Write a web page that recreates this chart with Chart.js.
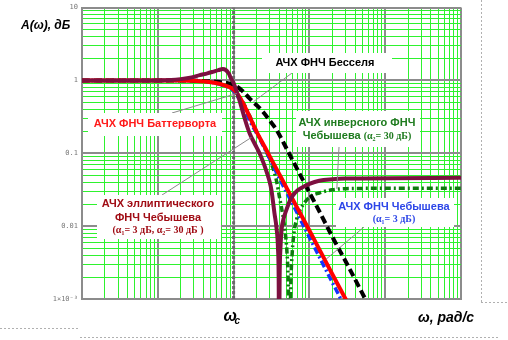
<!DOCTYPE html>
<html>
<head>
<meta charset="utf-8">
<script src="https://cdn.jsdelivr.net/npm/chart.js@4.4.1/dist/chart.umd.min.js"></script>
<style>
  html, body { margin: 0; padding: 0; background: #fff; }
  #wrap { position: relative; width: 508px; height: 340px; }
</style>
</head>
<body>
<div id="wrap"><canvas id="afc" width="508" height="340"></canvas></div>
<script>
/* ========================
   Данные
   ======================== */
const omegaC = 1;
const xDecades = [0.01, 0.1, 1, 10, 100, 1000];
const yDecades = [0.001, 0.01, 0.1, 1, 10];
const yTickLabels = ['1×10⁻³', '0.01', '0.1', '1', '10'];

// АЧХ ФНЧ Баттерворта
const butterW = [0.01, 0.1, 0.2, 0.3, 0.45, 0.65, 0.85, 1, 1.25, 1.5, 2, 2.6, 3.5, 5, 7, 10, 15, 20, 30, 40];
const butterA = [1, 1, 0.995, 0.985, 0.96, 0.9, 0.82, 0.75, 0.55, 0.38, 0.2, 0.12, 0.067, 0.0335, 0.0174, 0.0087, 0.0039, 0.0022, 0.001, 0.00058];

// АЧХ ФНЧ Бесселя
const besselW = [0.01, 0.1, 0.25, 0.4, 0.65, 1, 1.3, 1.62, 2, 2.41, 3, 3.68, 5.13, 7, 9.67, 14, 20.7, 30, 54.6, 75];
const besselA = [1, 1, 0.995, 0.98, 0.95, 0.87, 0.72, 0.566, 0.46, 0.377, 0.28, 0.21, 0.11, 0.059, 0.031, 0.0149, 0.0067, 0.0033, 0.001, 0.00053];

// АЧХ ФНЧ Чебышева (a1 = 3 дБ)
const chebW = [0.01, 0.1, 0.3, 0.5, 0.7, 1, 1.3, 1.6, 2, 2.56, 3.2, 4.03, 5, 6, 7.37, 9, 12.3, 18, 24.8, 32];
const chebA = [1, 1, 0.99, 0.95, 0.86, 0.72, 0.46, 0.29, 0.19, 0.117, 0.073, 0.045, 0.029, 0.0202, 0.0132, 0.0087, 0.0046, 0.0021, 0.0011, 0.00065];

// АЧХ инверсного ФНЧ Чебышева (a2 = 30 дБ)
const invW = [0.01, 0.1, 0.3, 0.5, 0.7, 1, 1.3, 1.6, 2, 2.56, 3.16, 3.67, 4.03, 4.42, 4.75, 5.05, 5.25, 5.45, 5.7, 5.95, 6.3, 6.8, 7.5, 8.5, 10, 13.5, 20, 30, 100, 1000];
const invA = [1, 1, 0.99, 0.95, 0.87, 0.74, 0.52, 0.34, 0.2, 0.119, 0.072, 0.0424, 0.025, 0.015, 0.009, 0.0045, 0.0018, 0.0002, 0.0018, 0.0045, 0.0085, 0.0125, 0.0165, 0.0205, 0.025, 0.0285, 0.0315, 0.0327, 0.033, 0.033];

// АЧХ эллиптического ФНЧ (a1 = 3 дБ, a2 = 30 дБ)
const ellW = [0.01, 0.1, 0.15, 0.2, 0.28, 0.357, 0.45, 0.53, 0.63, 0.72, 0.78, 0.86, 0.93, 1, 1.13, 1.27, 1.4, 1.62, 1.9, 2.2, 2.5, 2.72, 3, 3.16, 3.46, 3.68, 3.85, 3.93, 3.98, 4.05, 4.15, 4.3, 4.6, 5, 5.5, 6, 7, 8.5, 10, 13.5, 20, 30, 1000];
const ellA = [1, 1, 1.01, 1.04, 1.1, 1.18, 1.25, 1.31, 1.38, 1.43, 1.4, 1.25, 1.05, 0.92, 0.64, 0.43, 0.3, 0.19, 0.135, 0.1, 0.072, 0.056, 0.04, 0.031, 0.015, 0.0095, 0.005, 0.002, 0.0002, 0.002, 0.005, 0.009, 0.013, 0.017, 0.022, 0.026, 0.031, 0.035, 0.038, 0.042, 0.044, 0.045, 0.046];

/* ========================
   Вспомогательные функции
   ======================== */
function toPoints(ws, as) {
    return ws.map((w, i) => ({ x: w, y: as[i] }));
}

function isDecade(v) {
    const l = Math.log10(v);
    return Math.abs(l - Math.round(l)) < 1e-6;
}

// линии сетки: 1..9 в каждой декаде
function gridValues(decades) {
    const out = [];
    for (let i = 0; i < decades.length - 1; i++) {
        for (let k = 1; k <= 9; k++) out.push(decades[i] * k);
    }
    out.push(decades[decades.length - 1]);
    return out;
}

const xGrid = gridValues(xDecades);
const yGrid = gridValues(yDecades);

const SANS_B = 'bold 11px "Liberation Sans", Arial, sans-serif';
const SERIF_B = 'bold 10px "Liberation Serif", "Times New Roman", serif';

// подписи кривых: рамка, текст, выноска к кривой
const callouts = [
    { color: '#000000', box: [262, 53, 130, 20], cx: 325, lines: [[['АЧХ ФНЧ Бесселя', SANS_B]]], ly: [63],
      from: [292, 73], to: [1.83, 0.51] },
    { color: '#ff1a1a', box: [88, 113, 134, 23], cx: 155, lines: [[['АЧХ ФНЧ Баттерворта', SANS_B]]], ly: [124],
      from: [172, 113], to: [1.1, 0.66] },
    { color: '#1e7b1e', box: [296, 111, 124, 36], cx: 357,
      lines: [[['АЧХ инверсного ФНЧ', SANS_B]], [['Чебышева ', SANS_B], ['(α₂= 30 дБ)', SERIF_B]]], ly: [122.5, 136],
      from: [339, 147], to: [23, 0.0325] },
    { color: '#a00c14', box: [97, 195, 124, 44], cx: 158,
      lines: [[['АЧХ эллиптического', SANS_B]], [['ФНЧ Чебышева', SANS_B]], [['(α₁= 3 дБ, α₂= 30 дБ )', SERIF_B]]], ly: [204, 217.5, 230],
      from: [162, 195], to: [1.72, 0.165] },
    { color: '#2d46e8', box: [336, 198, 118, 29], cx: 394,
      lines: [[['АЧХ ФНЧ Чебышева', SANS_B]], [['(α₁= 3 дБ)', SERIF_B]]], ly: [206.5, 219.5],
      from: [364, 227], to: [16.5, 0.0035] }
];

function drawSegs(ctx, segs, cx, cy) {
    let total = 0;
    segs.forEach(s => { ctx.font = s[1]; total += ctx.measureText(s[0]).width; });
    let x = cx - total / 2;
    segs.forEach(s => {
        ctx.font = s[1];
        ctx.fillText(s[0], x, cy);
        x += ctx.measureText(s[0]).width;
    });
}

const labelsPlugin = {
    id: 'labels',
    afterDraw(chart) {
        const ctx = chart.ctx;
        const xs = chart.scales.x, ys = chart.scales.y;
        ctx.save();
        // выноски
        ctx.strokeStyle = '#8a8a8a';
        ctx.lineWidth = 1;
        callouts.forEach(c => {
            ctx.beginPath();
            ctx.moveTo(c.from[0], c.from[1]);
            ctx.lineTo(xs.getPixelForValue(c.to[0]), ys.getPixelForValue(c.to[1]));
            ctx.stroke();
        });
        // рамки и текст
        ctx.textBaseline = 'middle';
        ctx.textAlign = 'left';
        callouts.forEach(c => {
            ctx.fillStyle = '#ffffff';
            ctx.fillRect(c.box[0], c.box[1], c.box[2], c.box[3]);
            ctx.fillStyle = c.color;
            c.lines.forEach((segs, i) => drawSegs(ctx, segs, c.cx, c.ly[i]));
        });
        // подписи осей
        ctx.fillStyle = '#000';
        ctx.font = 'italic bold 12px "Liberation Sans", Arial, sans-serif';
        ctx.fillText('A(ω), дБ', 21, 26);
        ctx.font = 'italic bold 14px "Liberation Sans", Arial, sans-serif';
        ctx.fillText('ω, рад/с', 418, 318);
        const wcx = xs.getPixelForValue(omegaC);
        ctx.font = 'italic bold 16px "Liberation Sans", Arial, sans-serif';
        ctx.fillText('ω', wcx - 10, 317);
        ctx.font = 'italic bold 10px "Liberation Sans", Arial, sans-serif';
        ctx.fillText('c', wcx + 1, 321);
        // пунктирные рамки документа
        ctx.strokeStyle = '#b0b0b0';
        ctx.setLineDash([2, 2]);
        ctx.beginPath();
        ctx.moveTo(481.5, 0); ctx.lineTo(481.5, 302);
        ctx.moveTo(481, 302.5); ctx.lineTo(508, 302.5);
        ctx.moveTo(0, 328.5); ctx.lineTo(78, 328.5);
        ctx.moveTo(80, 337.5); ctx.lineTo(500, 337.5);
        ctx.stroke();
        ctx.restore();
    }
};

const gridOpts = {
    drawTicks: false,
    color: ctx => ctx.tick && isDecade(ctx.tick.value) ? '#8c8c8c' : '#2ef22e',
    lineWidth: ctx => ctx.tick && isDecade(ctx.tick.value) ? 2 : 1
};

/* ========================
   График
   ======================== */
new Chart(document.getElementById('afc'), {
    type: 'line',
    data: {
        datasets: [
            { label: 'Эллиптический', data: toPoints(ellW, ellA), borderColor: '#7d1040', borderWidth: 4, order: 0 },
            { label: 'Баттерворт', data: toPoints(butterW, butterA), borderColor: '#ff0000', borderWidth: 4, order: 1 },
            { label: 'Бессель', data: toPoints(besselW, besselA), borderColor: '#000000', borderWidth: 4, borderDash: [8, 4], order: 2 },
            { label: 'Чебышев', data: toPoints(chebW, chebA), borderColor: '#1434ff', borderWidth: 3.5, borderDash: [7, 3, 2, 3], order: 3 },
            { label: 'Инверсный Чебышев', data: toPoints(invW, invA), borderColor: '#0f7a0f', borderWidth: 3.5, borderDash: [6, 3, 2, 3], order: 4 },
            { label: 'ωc', data: [{ x: omegaC, y: yDecades[0] }, { x: omegaC, y: yDecades[yDecades.length - 1] }],
              borderColor: '#6a6a6a', borderWidth: 3, borderDash: [3, 2], order: 10 }
        ]
    },
    options: {
        responsive: false,
        animation: false,
        devicePixelRatio: 1,
        layout: { padding: { top: 4, right: 47, left: 0, bottom: 0 } },
        plugins: { legend: { display: false }, tooltip: { enabled: false } },
        elements: {
            point: { radius: 0 },
            line: { cubicInterpolationMode: 'monotone', fill: false }
        },
        scales: {
            x: {
                type: 'logarithmic',
                min: xDecades[0],
                max: xDecades[xDecades.length - 1],
                afterBuildTicks: s => { s.ticks = xGrid.map(v => ({ value: v })); },
                afterFit: s => { s.height = 41; },
                ticks: { display: false, autoSkip: false },
                grid: gridOpts,
                border: { color: '#8c8c8c', width: 2 }
            },
            y: {
                type: 'logarithmic',
                min: yDecades[0],
                max: yDecades[yDecades.length - 1],
                afterBuildTicks: s => { s.ticks = yGrid.map(v => ({ value: v })); },
                afterFit: s => { s.width = 82; },
                ticks: {
                    autoSkip: false,
                    padding: 4,
                    color: '#777',
                    font: { family: '"DejaVu Sans Mono", monospace', size: 7, lineHeight: 1 },
                    callback: v => {
                        const i = yDecades.findIndex(d => Math.abs(Math.log10(d) - Math.log10(v)) < 1e-6);
                        return i >= 0 ? yTickLabels[i] : '';
                    }
                },
                grid: gridOpts,
                border: { color: '#8c8c8c', width: 2 }
            }
        }
    },
    plugins: [labelsPlugin]
});
</script>
</body>
</html>
